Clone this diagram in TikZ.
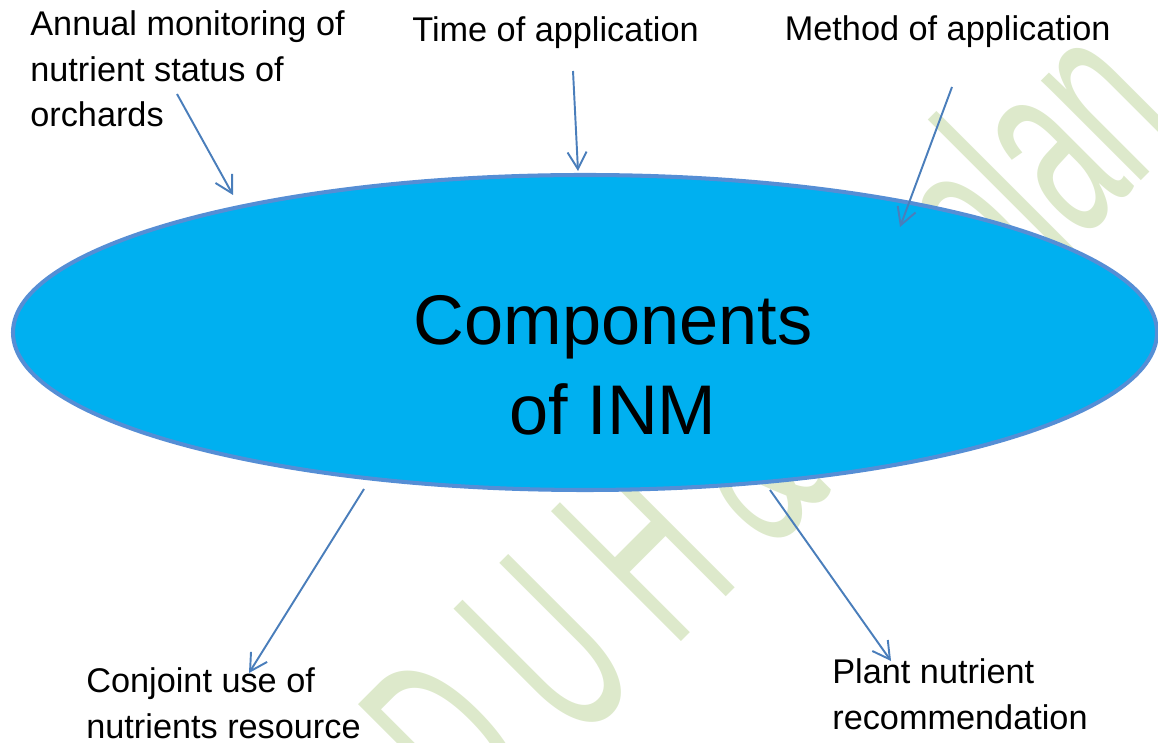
\documentclass[tikz,border=0pt]{standalone}
\usepackage{fontspec}
\setmainfont{Liberation Sans}
\newfontfamily\markfont[LetterSpace=28]{Liberation Sans}
\usepackage{graphicx}
\usepackage{tikz}
\usetikzlibrary{shapes,arrows.meta}

\definecolor{inmblue}{RGB}{0,176,240}
\definecolor{inmline}{RGB}{85,142,213}
\definecolor{arrowblue}{RGB}{74,126,187}
\definecolor{markgreen}{RGB}{221,233,203}

\begin{document}
\begin{tikzpicture}[
  wmark/.style={rotate=45,anchor=base west,inner sep=0,text=markgreen},
  lbl/.style={anchor=base west,inner sep=0,align=left,font=\fontsize{19.5}{25.9}\selectfont},
  arr/.style={draw=arrowblue,line width=1.1pt,-{Straight Barb[length=0.34cm,width=0.38cm]}}]
\useasboundingbox (0,0) rectangle (23.16,14.84);
% watermark behind everything
\node[wmark,font=\markfont\fontsize{152}{152}\selectfont] (markleft) at (9.60,-2.02) {\scalebox{0.51}[1]{DUH\&}};
\node[wmark,font=\fontsize{152}{152}\selectfont] (markright) at (18.76,7.16) {\scalebox{0.52}[1]{Solan}};
% central ellipse
\node[ellipse,draw=inmline,line width=2.3pt,fill=inmblue,minimum width=22.88cm,minimum height=6.3cm,inner sep=0] (inm) at (11.70,8.19) {};
\node[anchor=base,align=center,inner sep=0,font=\fontsize{40}{51.2}\selectfont] (title) at (12.26,6.15) {Components\\of INM};
% labels (anchored at the baseline of their last line)
\node[lbl] (annual) at (0.60,12.30) {Annual monitoring of\\nutrient status of\\orchards};
\node[lbl] (timeapp) at (8.24,14.01) {Time of application};
\node[lbl] (methodapp) at (15.69,14.02) {Method of application};
\node[lbl] (conjoint) at (1.72,0.08) {Conjoint use of\\nutrients resource};
\node[lbl] (plantrec) at (16.64,0.26) {Plant nutrient\\recommendation};
% arrow ends
\coordinate (annualout) at (3.54,12.96);
\coordinate (annualin) at (4.66,10.94);
\coordinate (timeout) at (11.46,13.42);
\coordinate (timein) at (11.56,11.42);
\coordinate (methodout) at (19.04,13.10);
\coordinate (methodin) at (18.00,10.30);
\coordinate (conjointout) at (7.28,5.06);
\coordinate (conjointin) at (4.98,1.38);
\coordinate (plantout) at (15.40,5.04);
\coordinate (plantin) at (17.82,1.62);
\draw[arr] (annualout) -- (annualin);
\draw[arr] (timeout) -- (timein);
\draw[arr] (methodout) -- (methodin);
\draw[arr] (conjointout) -- (conjointin);
\draw[arr] (plantout) -- (plantin);
\end{tikzpicture}
\end{document}
